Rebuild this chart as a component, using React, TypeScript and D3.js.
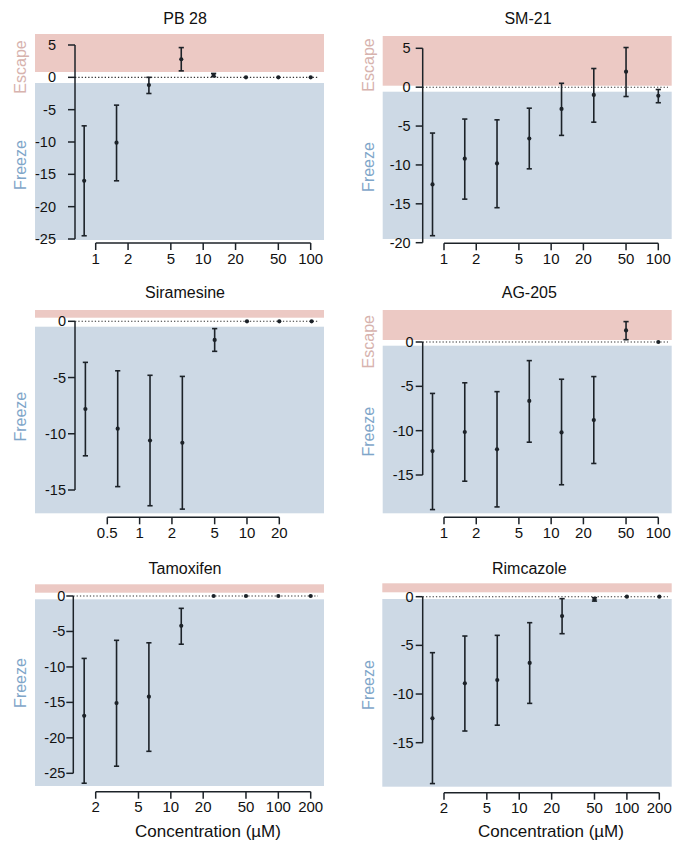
import React from "react";
import * as d3 from "d3";

// ---------- data ----------
const concA = [0.78125, 1.5625, 3.125, 6.25, 12.5, 25, 50, 100];
const concSir = [0.3125, 0.625, 1.25, 2.5, 5, 10, 20, 40];
const concB = [1.5625, 3.125, 6.25, 12.5, 25, 50, 100, 200];

const pb28Mean = [-16.0, -10.1, -1.2, 2.8, 0.35, 0, 0, 0];
const pb28Lo = [-24.5, -16.0, -2.5, 1.0, 0.1, 0, 0, 0];
const pb28Hi = [-7.5, -4.3, 0, 4.6, 0.6, 0, 0, 0];

const sm21Mean = [-12.5, -9.2, -9.8, -6.6, -2.8, -1.0, 2.0, -1.1];
const sm21Lo = [-19.1, -14.4, -15.5, -10.5, -6.2, -4.5, -1.2, -2.0];
const sm21Hi = [-5.9, -4.1, -4.2, -2.7, 0.5, 2.4, 5.1, -0.3];

const sirMean = [-7.8, -9.55, -10.6, -10.8, -1.66, 0, 0, 0];
const sirLo = [-11.96, -14.7, -16.4, -16.7, -2.67, 0, 0, 0];
const sirHi = [-3.65, -4.4, -4.8, -4.9, -0.65, 0, 0, 0];

const ag205Mean = [-12.3, -10.15, -12.1, -6.65, -10.2, -8.8, 1.3, 0];
const ag205Lo = [-18.9, -15.7, -18.6, -11.3, -16.1, -13.7, 0.26, 0];
const ag205Hi = [-5.8, -4.6, -5.6, -2.1, -4.2, -3.9, 2.3, 0];

const tamMean = [-16.9, -15.1, -14.2, -4.2, 0, 0, 0, 0];
const tamLo = [-26.4, -24.0, -21.9, -6.8, 0, 0, 0, 0];
const tamHi = [-8.8, -6.25, -6.6, -1.74, 0, 0, 0, 0];

const rimMean = [-12.5, -8.9, -8.56, -6.8, -1.99, -0.27, 0, 0];
const rimLo = [-19.2, -13.8, -13.2, -10.96, -3.8, -0.45, 0, 0];
const rimHi = [-5.75, -4.04, -3.97, -2.67, -0.2, -0.1, 0, 0];

const xTicksA = [1, 2, 5, 10, 20, 50, 100];
const xTicksSir = [0.5, 1, 2, 5, 10, 20];
const xTicksB = [2, 5, 10, 20, 50, 100, 200];

const yTicksPB = [5, 0, -5, -10, -15, -20, -25];
const yTicksSM = [5, 0, -5, -10, -15, -20];
const yTicks15 = [0, -5, -10, -15];
const yTicks25 = [0, -5, -10, -15, -20, -25];

// ---------- layout ----------
const FONT = "'Liberation Sans', Arial, Helvetica, sans-serif";
const PINK = "#ecc9c4";
const BLUE = "#cdd9e5";
const ESC_COL = "#d7b3ae";
const FRZ_COL = "#7fa6c9";
const INK = "#1c2228";

type Panel = {
  title: string; tx: number; ty: number;
  bandX: [number, number]; pink: [number, number]; blue: [number, number];
  axX: number; yDom: [number, number]; yRange: [number, number]; yTicks: number[]; labGap: number;
  axY: number; xDom: [number, number]; xRange: [number, number]; xTicks: number[];
  dotEnd: number;
  conc: number[]; mean: number[]; lo: number[]; hi: number[];
  escape?: [number, number]; freeze: [number, number];
  xTitle?: [number, number];
};

const panels: Panel[] = [
  {
    title: "PB 28", tx: 185, ty: 24,
    bandX: [35, 324], pink: [34, 72], blue: [83, 240],
    axX: 75, yDom: [-25, 5], yRange: [239, 45], yTicks: yTicksPB, labGap: 19,
    axY: 243, xDom: [1, 100], xRange: [95.7, 310.7], xTicks: xTicksA,
    dotEnd: 318,
    conc: concA, mean: pb28Mean, lo: pb28Lo, hi: pb28Hi,
    escape: [20, 67], freeze: [20, 165],
  },
  {
    title: "SM-21", tx: 528, ty: 24,
    bandX: [382.7, 671.7], pink: [36, 85.7], blue: [91.7, 239],
    axX: 422.7, yDom: [-20, 5], yRange: [242.7, 48.3], yTicks: yTicksSM, labGap: 12,
    axY: 243.3, xDom: [1, 100], xRange: [444, 658.3], xTicks: xTicksA,
    dotEnd: 668,
    conc: concA, mean: sm21Mean, lo: sm21Lo, hi: sm21Hi,
    escape: [368, 65], freeze: [368, 167],
  },
  {
    title: "Siramesine", tx: 185, ty: 298,
    bandX: [35, 324], pink: [310, 317.7], blue: [326.7, 513.3],
    axX: 75, yDom: [-15, 0], yRange: [490, 321.3], yTicks: yTicks15, labGap: 9,
    axY: 517.3, xDom: [0.5, 20], xRange: [107.3, 279.3], xTicks: xTicksSir,
    dotEnd: 318,
    conc: concSir, mean: sirMean, lo: sirLo, hi: sirHi,
    freeze: [20, 416.7],
  },
  {
    title: "AG-205", tx: 529.3, ty: 298,
    bandX: [382.7, 671.7], pink: [310, 340], blue: [345.7, 513.3],
    axX: 422.7, yDom: [-15, 0], yRange: [475, 342], yTicks: yTicks15, labGap: 9,
    axY: 517.3, xDom: [1, 100], xRange: [444, 658.3], xTicks: xTicksA,
    dotEnd: 668,
    conc: concA, mean: ag205Mean, lo: ag205Lo, hi: ag205Hi,
    escape: [368, 341.7], freeze: [368, 431.7],
  },
  {
    title: "Tamoxifen", tx: 185, ty: 574,
    bandX: [35, 324], pink: [584.3, 592.7], blue: [599.3, 786],
    axX: 73.3, yDom: [-25, 0], yRange: [773.3, 596], yTicks: yTicks25, labGap: 8,
    axY: 791.7, xDom: [2, 200], xRange: [95.7, 310.7], xTicks: xTicksB,
    dotEnd: 318,
    conc: concB, mean: tamMean, lo: tamLo, hi: tamHi,
    freeze: [20, 683], xTitle: [208, 837],
  },
  {
    title: "Rimcazole", tx: 529.3, ty: 574,
    bandX: [382.3, 671.7], pink: [583.3, 592.3], blue: [599, 786.7],
    axX: 422.7, yDom: [-15, 0], yRange: [742.7, 596.7], yTicks: yTicks15, labGap: 9,
    axY: 792.7, xDom: [2, 200], xRange: [444, 659.3], xTicks: xTicksB,
    dotEnd: 668,
    conc: concB, mean: rimMean, lo: rimLo, hi: rimHi,
    freeze: [368, 685], xTitle: [551, 837],
  },
];

const fmtY = (v: number) => (v < 0 ? "-" + Math.abs(v) : String(v));

function PanelView({ p }: { p: Panel }) {
  const y = d3.scaleLinear().domain(p.yDom).range(p.yRange);
  const x = d3.scaleLog().domain(p.xDom).range(p.xRange);
  const y0 = y(0);
  const cap = 2.6;
  return (
    <g>
      <rect x={p.bandX[0]} y={p.pink[0]} width={p.bandX[1] - p.bandX[0]} height={p.pink[1] - p.pink[0]} fill={PINK} />
      <rect x={p.bandX[0]} y={p.blue[0]} width={p.bandX[1] - p.bandX[0]} height={p.blue[1] - p.blue[0]} fill={BLUE} />
      <text x={p.tx} y={p.ty} textAnchor="middle" fontSize={16} fill="#111">{p.title}</text>
      {p.escape && (
        <text transform={`translate(${p.escape[0]},${p.escape[1]}) rotate(-90)`} textAnchor="middle" dominantBaseline="central" fontSize={16} fill={ESC_COL}>Escape</text>
      )}
      <text transform={`translate(${p.freeze[0]},${p.freeze[1]}) rotate(-90)`} textAnchor="middle" dominantBaseline="central" fontSize={16} fill={FRZ_COL}>Freeze</text>
      {/* zero reference */}
      <line x1={p.axX} x2={p.dotEnd} y1={y0} y2={y0} stroke="#333" strokeWidth={1.1} strokeDasharray="1.3 2" />
      {/* y axis */}
      <line x1={p.axX} x2={p.axX} y1={y(p.yDom[1])} y2={y(p.yDom[0])} stroke={INK} strokeWidth={1.5} />
      {p.yTicks.map((t) => (
        <g key={"yt" + t}>
          <line x1={p.axX - 7} x2={p.axX} y1={y(t)} y2={y(t)} stroke={INK} strokeWidth={1.5} />
          <text x={p.axX - p.labGap} y={y(t) + 5} textAnchor="end" fontSize={14.5} fill="#111">{fmtY(t)}</text>
        </g>
      ))}
      {/* x axis */}
      <line x1={x(p.xDom[0])} x2={x(p.xDom[1])} y1={p.axY} y2={p.axY} stroke={INK} strokeWidth={1.5} />
      {p.xTicks.map((t) => (
        <g key={"xt" + t}>
          <line x1={x(t)} x2={x(t)} y1={p.axY} y2={p.axY + 7} stroke={INK} strokeWidth={1.5} />
          <text x={x(t)} y={p.axY + 20.5} textAnchor="middle" fontSize={15} fill="#111">{String(t)}</text>
        </g>
      ))}
      {p.xTitle && (
        <text x={p.xTitle[0]} y={p.xTitle[1]} textAnchor="middle" fontSize={17} fill="#111">Concentration (µM)</text>
      )}
      {/* data */}
      {p.conc.map((c, i) => {
        const cx = x(c);
        const hasBar = p.hi[i] - p.lo[i] > 0.01;
        return (
          <g key={"d" + i}>
            {hasBar && (
              <g stroke={INK} strokeWidth={1.6}>
                <line x1={cx} x2={cx} y1={y(p.hi[i])} y2={y(p.lo[i])} />
                <line x1={cx - cap} x2={cx + cap} y1={y(p.hi[i])} y2={y(p.hi[i])} />
                <line x1={cx - cap} x2={cx + cap} y1={y(p.lo[i])} y2={y(p.lo[i])} />
              </g>
            )}
            <circle cx={cx} cy={y(p.mean[i])} r={2.1} fill={INK} />
          </g>
        );
      })}
    </g>
  );
}

export default function App() {
  return (
    <svg
      width={680}
      height={846}
      viewBox="0 0 680 846"
      style={{ position: "absolute", left: 0, top: 0, background: "#fff", fontFamily: FONT }}
    >
      <rect x={0} y={0} width={680} height={846} fill="#fff" />
      {panels.map((p) => (
        <PanelView key={p.title} p={p} />
      ))}
    </svg>
  );
}
